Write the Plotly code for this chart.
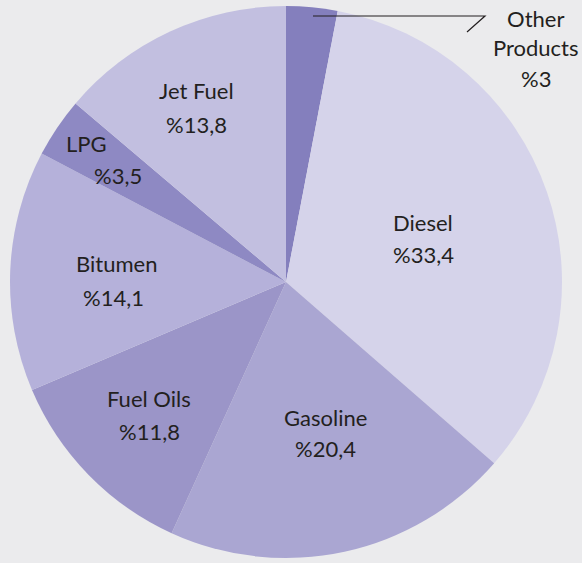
import plotly.graph_objects as go

labels = ["Other Products", "Diesel", "Gasoline", "Fuel Oils", "Bitumen", "LPG", "Jet Fuel"]
values = [3, 33.4, 20.4, 11.8, 14.1, 3.5, 13.8]
colors = ["#847fbd", "#d5d3ea", "#aaa6d2", "#9b95c8", "#b5b1da", "#8e89c3", "#c2bfe0"]
label_lines = [["Other", "Products"], ["Diesel"], ["Gasoline"], ["Fuel Oils"], ["Bitumen"], ["LPG"], ["Jet Fuel"]]

W, H = 582, 563
# label anchor positions (pixel centres): name line(s), value line
name_pos = [(536, 33), (423, 222), (325, 417), (149, 398), (116, 263), (86, 143), (196, 90)]
value_pos = [(536, 78), (423, 254), (325, 448), (149, 431), (113, 297), (118, 175), (196, 124)]

def fmt(v):
    s = ("%g" % v).replace(".", ",")
    return "%" + s

fig = go.Figure(go.Pie(
    labels=labels, values=values, sort=False, direction="clockwise", rotation=0,
    marker=dict(colors=colors, line=dict(width=0)),
    textinfo="none", hoverinfo="label+value",
    domain=dict(x=[10 / W, 562 / W], y=[1 - 558 / H, 1 - 6 / H]),
    showlegend=False,
))

font = dict(family="Lato, Open Sans, sans-serif", size=22, color="#231f20")
for lines, v, (nx, ny), (vx, vy) in zip(label_lines, values, name_pos, value_pos):
    fig.add_annotation(x=nx / W, y=1 - ny / H, xref="paper", yref="paper",
                       text="<br>".join(lines), showarrow=False, font=font,
                       xanchor="center", yanchor="middle", align="center")
    fig.add_annotation(x=vx / W, y=1 - vy / H, xref="paper", yref="paper",
                       text=fmt(v), showarrow=False, font=font,
                       xanchor="center", yanchor="middle")

# leader line for Other Products
pts = [(313, 16), (485, 16), (467, 32)]
path = "M " + " L ".join("%f,%f" % (px / W, 1 - py / H) for px, py in pts)
fig.add_shape(type="path", path=path, xref="paper", yref="paper",
              line=dict(color="#231f20", width=1.2))

fig.update_layout(width=W, height=H, margin=dict(l=0, r=0, t=0, b=0),
                  paper_bgcolor="#ebebed", plot_bgcolor="#ebebed")
fig.write_html("out.html", config={"displayModeBar": False},
               post_script="document.body.style.margin='0';document.body.style.background='#ebebed';")
